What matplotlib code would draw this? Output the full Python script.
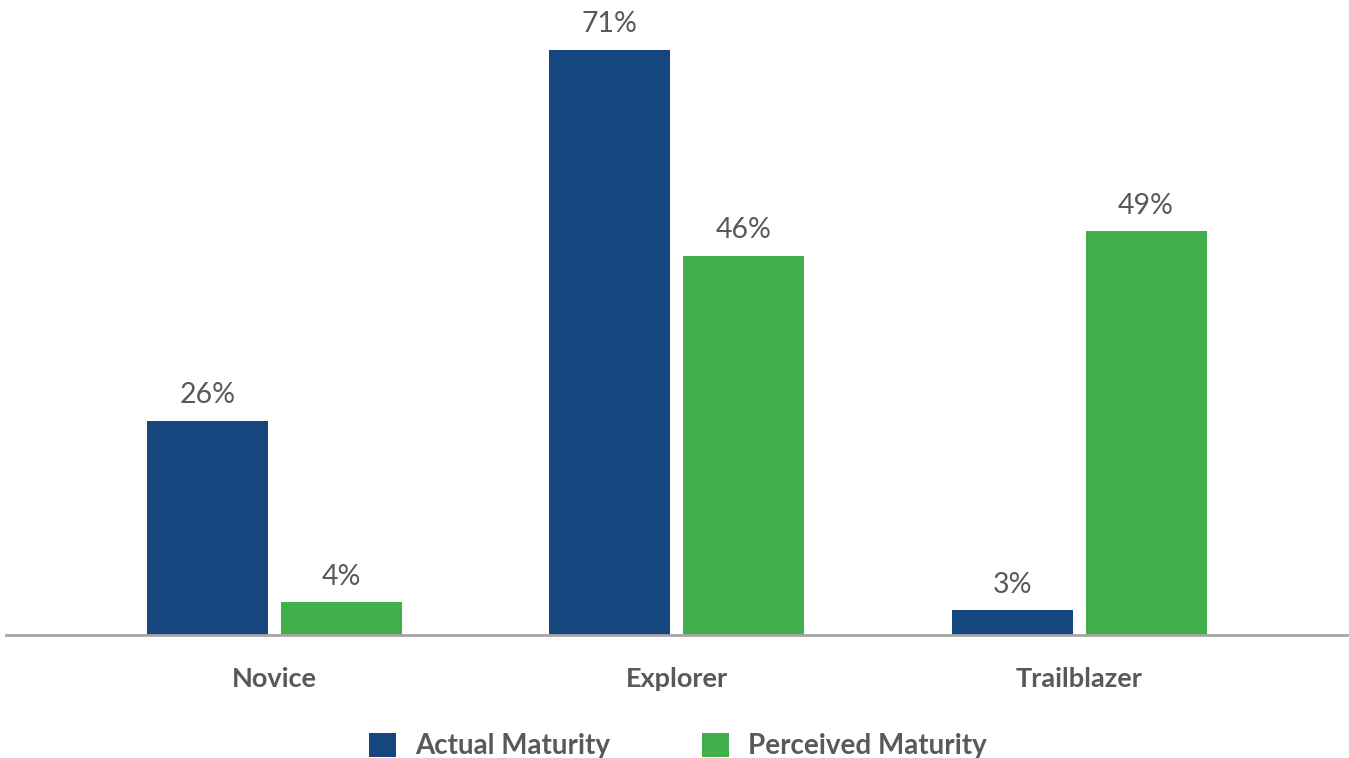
import matplotlib
matplotlib.use("Agg")
import matplotlib.pyplot as plt
import numpy as np

categories = ["Novice", "Explorer", "Trailblazer"]
actual = [26, 71, 3]
perceived = [4, 46, 49]
series_names = ["Actual Maturity", "Perceived Maturity"]

BLUE = "#15467E"
GREEN = "#41AF4B"
TEXT = "#595959"

plt.rcParams["font.family"] = ["Lato", "DejaVu Sans"]

W, H = 1349, 758
fig = plt.figure(figsize=(W / 100, H / 100), dpi=100)

# axes spans the grey baseline horizontally; baseline sits at y=635 px
px_per_pct = 8.24
base_y = 635
top_val = 75
left, right = 6 / W, 1347 / W
bottom = (H - base_y) / H
top = (H - (base_y - top_val * px_per_pct)) / H
ax = fig.add_axes([left, bottom, right - left, top - bottom])

x = np.arange(len(categories))
unit = 402.25
width = 121 / unit
offset = 67 / unit

b1 = ax.bar(x - offset, actual, width, color=BLUE, label=series_names[0])
b2 = ax.bar(x + offset, perceived, width, color=GREEN, label=series_names[1])

for bars, vals in ((b1, actual), (b2, perceived)):
    for rect, v in zip(bars, vals):
        ax.annotate(f"{v}%", (rect.get_x() + rect.get_width() / 2, v),
                    xytext=(0, 9), textcoords="offset points",
                    ha="center", va="bottom", fontsize=20.5, color=TEXT)

ax.set_xlim(-268.5 / unit, (1347 - 274.5) / unit)
ax.set_ylim(0, top_val)

for s in ("top", "right", "left"):
    ax.spines[s].set_visible(False)
ax.spines["bottom"].set_color("#A6A6A6")
ax.spines["bottom"].set_linewidth(2)
ax.set_yticks([])
ax.set_xticks(x)
ax.set_xticklabels(categories, fontsize=19.5, fontweight="bold", color=TEXT)
ax.tick_params(axis="x", length=0, pad=23)

leg = fig.legend(handles=[b1, b2], labels=series_names, loc="center",
                 bbox_to_anchor=(678 / W, 1 - 746 / H), ncol=2, frameon=False,
                 fontsize=20, handlelength=0.97, handleheight=0.97,
                 handletextpad=0.68, columnspacing=3.3)
for t in leg.get_texts():
    t.set_color(TEXT)
    t.set_fontweight("bold")

fig.savefig("out.png", dpi=100, facecolor="white")
